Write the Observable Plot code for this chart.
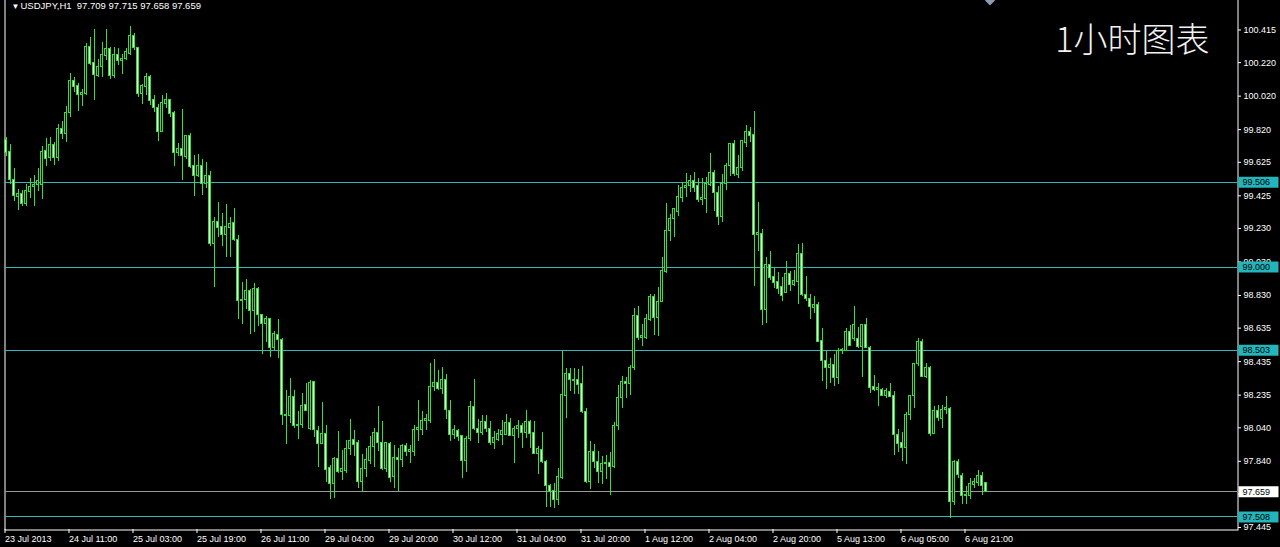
<!DOCTYPE html>
<html><head><meta charset="utf-8">
<script src="https://cdn.jsdelivr.net/npm/d3@7"></script>
<script src="https://cdn.jsdelivr.net/npm/@observablehq/plot@0.6"></script>
<style>
html,body{margin:0;padding:0;background:#000;overflow:hidden}
#chart svg{display:block}
</style></head><body><div id="chart"></div>
<script>
// ---- data (USDJPY, H1) ----
const symbolName = "USDJPY,H1";
const chartTitle = "1小时图表";
const open = [
99.761,99.685,99.521,99.417,99.435,99.375,99.447,99.475,99.491,99.491,
99.691,99.651,99.727,99.651,99.821,99.795,99.917,100.111,100.081,100.025,
100.035,100.315,100.215,100.141,100.195,100.257,100.301,100.141,100.267,100.227,
100.241,100.271,100.381,100.307,100.035,100.077,100.135,99.995,99.947,99.807,
99.975,99.995,99.921,99.681,99.707,99.655,99.781,99.601,99.541,99.605,
99.495,99.545,99.135,99.269,99.239,99.191,99.235,99.261,99.159,98.795,
98.805,98.855,98.735,98.871,98.715,98.659,98.691,98.515,98.595,98.565,
98.109,98.109,98.225,98.051,98.055,98.179,98.035,98.315,98.019,97.945,
98.005,97.799,97.705,97.851,97.775,97.785,97.915,97.965,97.949,97.719,
97.795,97.839,97.925,98.011,97.951,97.795,97.945,97.746,97.860,97.846,
97.930,97.896,97.896,98.026,98.026,98.080,98.080,98.286,98.306,98.272,
98.326,98.140,97.996,98.020,97.990,97.840,97.972,98.166,98.032,98.012,
98.076,98.032,97.952,97.966,98.000,98.000,98.070,97.992,98.032,98.052,
98.012,98.076,98.012,97.886,97.906,97.836,97.692,97.660,97.612,97.740,
98.232,98.360,98.326,98.326,98.300,98.136,97.714,97.894,97.838,97.774,
97.824,97.830,97.804,98.050,98.218,98.314,98.304,98.398,98.710,98.578,
98.578,98.684,98.818,98.694,98.794,98.970,99.214,99.284,99.330,99.414,
99.470,99.484,99.514,99.484,99.398,99.404,99.490,99.564,99.444,99.298,
99.494,99.604,99.734,99.550,99.590,99.738,99.804,99.790,99.194,99.198,
98.744,99.014,98.938,98.910,98.879,98.845,98.959,98.891,98.911,99.075,
98.835,98.811,98.755,98.771,98.559,98.439,98.395,98.415,98.335,98.499,
98.499,98.615,98.571,98.571,98.525,98.655,98.519,98.285,98.265,98.265,
98.231,98.255,98.231,97.995,97.951,97.919,98.115,98.231,98.419,98.555,
98.345,98.395,98.005,98.139,98.095,98.145,98.155,97.599,97.835,97.755,
97.639,97.631,97.699,97.711,97.755,97.709];
const high = [
99.771,99.731,99.591,99.461,99.455,99.491,99.531,99.547,99.591,99.721,
99.767,99.775,99.741,99.851,99.871,99.961,100.155,100.131,100.095,100.061,
100.335,100.371,100.415,100.241,100.341,100.415,100.311,100.311,100.307,100.271,
100.307,100.435,100.395,100.311,100.091,100.155,100.141,100.021,99.971,100.021,
100.035,100.001,99.931,99.735,99.941,99.787,99.795,99.667,99.671,99.641,
99.625,99.571,99.295,99.385,99.319,99.375,99.295,99.349,99.191,98.905,
98.925,98.865,98.899,98.879,98.719,98.705,98.695,98.615,98.689,98.575,
98.265,98.335,98.265,98.135,98.245,98.305,98.321,98.319,98.045,98.191,
98.051,97.815,97.865,98.019,97.905,97.965,98.091,98.025,97.965,97.879,
97.915,97.991,98.035,98.165,98.075,97.955,97.955,97.936,97.916,97.940,
97.946,97.932,98.056,98.206,98.136,98.120,98.426,98.446,98.380,98.400,
98.356,98.206,98.056,98.032,97.996,97.986,98.200,98.326,98.092,98.116,
98.112,98.080,98.020,98.032,98.086,98.120,98.096,98.046,98.086,98.066,
98.146,98.086,98.076,97.926,98.012,97.846,97.700,97.706,97.800,98.496,
98.396,98.392,98.396,98.386,98.406,98.156,97.958,97.938,97.898,97.870,
97.874,97.894,98.074,98.290,98.344,98.338,98.414,98.750,98.764,98.654,
98.714,98.838,98.834,98.878,99.054,99.378,99.314,99.350,99.484,99.504,
99.558,99.544,99.564,99.530,99.530,99.534,99.678,99.574,99.478,99.554,
99.618,99.738,99.754,99.664,99.758,99.844,99.830,99.930,99.384,99.224,
99.054,99.090,98.994,98.970,98.935,99.035,98.975,98.979,99.135,99.139,
98.945,98.835,98.825,98.791,98.631,98.495,98.455,98.475,98.511,98.515,
98.631,98.651,98.765,98.639,98.659,98.691,98.525,98.355,98.305,98.275,
98.275,98.305,98.259,98.031,98.011,98.131,98.235,98.425,98.571,98.565,
98.425,98.405,98.165,98.175,98.175,98.225,98.159,97.845,97.851,97.765,
97.691,97.735,97.735,97.785,97.771,97.715];
const low = [
99.661,99.491,99.391,99.335,99.361,99.361,99.411,99.361,99.451,99.401,
99.601,99.631,99.607,99.631,99.761,99.741,99.891,100.041,99.931,99.961,
100.021,100.201,99.997,100.131,100.131,100.235,100.121,100.127,100.201,100.147,
100.231,100.261,100.295,100.011,99.971,100.021,99.967,99.921,99.747,99.801,
99.947,99.891,99.601,99.661,99.515,99.641,99.587,99.421,99.535,99.425,
99.471,99.125,98.875,99.175,99.125,99.059,99.055,99.151,98.689,98.659,
98.745,98.599,98.611,98.645,98.479,98.551,98.459,98.499,98.455,98.055,
97.939,98.065,98.035,97.971,98.035,98.135,98.025,97.985,97.805,97.939,
97.715,97.615,97.619,97.765,97.725,97.765,97.875,97.871,97.679,97.651,
97.745,97.819,97.805,97.899,97.785,97.775,97.715,97.676,97.660,97.806,
97.866,97.826,97.866,97.956,97.996,98.026,98.066,98.256,98.260,98.236,
98.092,97.960,97.972,97.960,97.740,97.772,97.956,98.026,97.946,97.996,
98.012,97.936,97.912,97.960,97.936,97.996,97.986,97.826,97.976,97.916,
97.976,97.916,97.880,97.760,97.826,97.566,97.566,97.560,97.576,97.732,
98.096,98.256,98.240,98.236,98.126,97.706,97.670,97.798,97.710,97.704,
97.730,97.638,97.798,98.024,98.158,98.214,98.234,98.384,98.564,98.524,
98.570,98.674,98.594,98.584,98.790,98.964,99.154,99.178,99.304,99.384,
99.414,99.444,99.444,99.384,99.370,99.318,99.478,99.334,99.250,99.264,
99.458,99.538,99.538,99.530,99.570,99.714,99.744,98.884,99.094,98.650,
98.664,98.918,98.874,98.838,98.795,98.839,98.855,98.885,98.779,98.825,
98.795,98.685,98.725,98.551,98.319,98.271,98.305,98.285,98.299,98.475,
98.495,98.525,98.555,98.511,98.339,98.511,98.245,98.255,98.165,98.225,
98.215,98.219,97.875,97.891,97.839,97.819,98.085,98.155,98.405,98.339,
98.335,97.991,97.999,98.079,98.035,98.119,97.499,97.579,97.739,97.585,
97.585,97.615,97.679,97.691,97.635,97.658];
const close = [
99.681,99.521,99.421,99.435,99.375,99.451,99.475,99.491,99.515,99.685,
99.647,99.731,99.651,99.821,99.795,99.917,100.111,100.077,100.025,100.041,
100.315,100.211,100.145,100.195,100.267,100.301,100.141,100.267,100.227,100.243,
100.281,100.381,100.307,100.035,100.081,100.135,99.991,99.947,99.807,99.981,
99.995,99.915,99.681,99.707,99.661,99.781,99.595,99.541,99.605,99.495,
99.545,99.135,99.269,99.235,99.191,99.239,99.259,99.159,98.799,98.805,
98.855,98.735,98.871,98.715,98.659,98.691,98.515,98.599,98.563,98.115,
98.119,98.225,98.051,98.059,98.171,98.139,98.309,98.025,97.945,98.005,
97.791,97.705,97.851,97.775,97.795,97.915,97.959,97.939,97.719,97.795,
97.845,97.925,98.011,97.951,97.795,97.951,97.739,97.860,97.846,97.930,
97.896,97.906,98.026,98.040,98.080,98.090,98.286,98.306,98.272,98.326,
98.146,97.996,98.026,97.986,97.840,97.972,98.166,98.032,98.012,98.072,
98.032,97.952,97.980,98.006,98.020,98.070,97.992,98.032,98.052,98.012,
98.076,98.006,97.886,97.912,97.836,97.692,97.656,97.612,97.746,98.236,
98.360,98.326,98.320,98.296,98.132,97.716,97.894,97.838,97.774,97.824,
97.830,97.804,98.050,98.218,98.314,98.304,98.398,98.710,98.578,98.588,
98.690,98.818,98.694,98.794,98.974,99.214,99.284,99.344,99.418,99.470,
99.484,99.514,99.474,99.398,99.414,99.494,99.564,99.444,99.298,99.494,
99.604,99.734,99.554,99.590,99.750,99.804,99.784,99.194,99.204,98.744,
99.014,98.934,98.904,98.870,98.829,98.959,98.895,98.915,99.075,98.835,
98.811,98.759,98.771,98.555,98.439,98.395,98.415,98.335,98.499,98.505,
98.611,98.531,98.655,98.525,98.655,98.515,98.279,98.265,98.279,98.231,
98.259,98.225,97.995,97.945,97.919,98.119,98.231,98.419,98.555,98.345,
98.395,98.005,98.139,98.099,98.145,98.159,97.599,97.835,97.759,97.635,
97.631,97.705,97.715,97.755,97.695,97.659];
// time-axis labels, one every 16 hourly bars
const timeLabels = ["23 Jul 2013","24 Jul 11:00","25 Jul 03:00","25 Jul 19:00","26 Jul 11:00",
  "29 Jul 04:00","29 Jul 20:00","30 Jul 12:00","31 Jul 04:00","31 Jul 20:00",
  "1 Aug 12:00","2 Aug 04:00","2 Aug 20:00","5 Aug 13:00","6 Aug 05:00","6 Aug 21:00"];
const labelEvery = 16;
// price-axis tick labels
const priceTicks = [100.415,100.220,100.020,99.820,99.625,99.425,99.230,99.030,
  98.830,98.635,98.435,98.235,98.040,97.840,97.645,97.445];
// horizontal levels and current bid
const levels = [99.506, 99.000, 98.503, 97.508];
const bid = [97.659];

// ---- build ----
const bars = open.map((o, i) => ({i, open: o, high: high[i], low: low[i], close: close[i]}));
const last = bars[bars.length - 1];
const header = `${symbolName}\u00a0\u00a0${last.open.toFixed(3)} ${last.high.toFixed(3)} ${last.low.toFixed(3)} ${last.close.toFixed(3)}`;

const GREEN = "#2fe62f";
const CYAN_LINE = "#36b8bb";
const CYAN_BOX = "#22b5bb";
const boxSymbol = {draw(ctx) { ctx.rect(-20, -5.5, 40, 11); }};
const axisFont = "'Liberation Sans', Arial, sans-serif";

const chart = Plot.plot({
  width: 1280, height: 547,
  marginLeft: 5, marginRight: 43, marginTop: 0, marginBottom: 18,
  style: {background: "#000", color: "#fff", fontFamily: axisFont, fontSize: "9px"},
  x: {domain: [-0.125, 307.875]},
  y: {domain: [97.433, 100.591]},
  marks: [
    Plot.frame({stroke: "#fff", insetTop: -2, insetLeft: -0.5, insetRight: -0.5, insetBottom: -0.5}),
    Plot.axisX({ticks: timeLabels.map((_, k) => k * labelEvery), tickFormat: (d) => timeLabels[d / labelEvery],
      tickSize: 4, tickPadding: 2, textAnchor: "start", dx: -1, fontSize: 9, fontFamily: axisFont, label: null}),
    Plot.axisY({anchor: "right", ticks: priceTicks, tickFormat: (d) => d.toFixed(3),
      tickSize: 3, tickPadding: 3, fontSize: 9, fontFamily: axisFont, label: null}),
    Plot.ruleY(levels, {y: (d) => d, stroke: CYAN_LINE, shapeRendering: "crispEdges"}),
    Plot.ruleY(bid, {y: (d) => d, stroke: "#9a9a9a", shapeRendering: "crispEdges"}),
    // candles
    Plot.ruleX(bars, {x: "i", y1: "low", y2: "high", stroke: GREEN, shapeRendering: "crispEdges"}),
    Plot.rect(bars, {x1: (d) => d.i - 0.375, x2: (d) => d.i + 0.375, y1: "open", y2: "close",
      fill: GREEN, insetTop: -0.5, insetBottom: -0.5, shapeRendering: "crispEdges"}),
    Plot.rect(bars, {x1: (d) => d.i - 0.125, x2: (d) => d.i + 0.125, y1: "open", y2: "close",
      fill: (d) => d.close >= d.open ? "#000" : "#eaffea", insetTop: 0.5, insetBottom: 0.5, shapeRendering: "crispEdges"}),
    // price labels on the right scale
    Plot.dot(levels, {y: (d) => d, frameAnchor: "right", dx: 21, symbol: boxSymbol, fill: CYAN_BOX, stroke: "none"}),
    Plot.text(levels, {y: (d) => d, text: (d) => d.toFixed(3), frameAnchor: "right", textAnchor: "start", dx: 5,
      fill: "#000", fontSize: 9, fontFamily: axisFont}),
    Plot.dot(bid, {y: (d) => d, frameAnchor: "right", dx: 21, symbol: boxSymbol, fill: "#fff", stroke: "none"}),
    Plot.text(bid, {y: (d) => d, text: (d) => d.toFixed(3), frameAnchor: "right", textAnchor: "start", dx: 5,
      fill: "#000", fontSize: 9, fontFamily: axisFont}),
    // chart-shift marker
    Plot.dot([bars.length], {x: (d) => d, frameAnchor: "top", symbol: "diamond2", r: 4.5, fill: "#8d9cb0", stroke: "none"}),
    // header and big title
    Plot.text(["\u25BC"], {frameAnchor: "top-left", dx: 6, dy: 3, fontSize: 8, fill: "#fff", textAnchor: "start", lineAnchor: "top"}),
    Plot.text([header], {frameAnchor: "top-left", dx: 15, dy: 2, fontSize: 9.5, fill: "#fff", textAnchor: "start", lineAnchor: "top", fontFamily: axisFont}),
    Plot.text([chartTitle], {frameAnchor: "top-right", dx: -28, dy: 27, fontSize: 34, fill: "#f2f2f2",
      textAnchor: "end", lineAnchor: "top", fontFamily: "'Noto Sans CJK SC', sans-serif", fontWeight: 300})
  ]
});
document.getElementById("chart").appendChild(chart);
</script></body></html>
